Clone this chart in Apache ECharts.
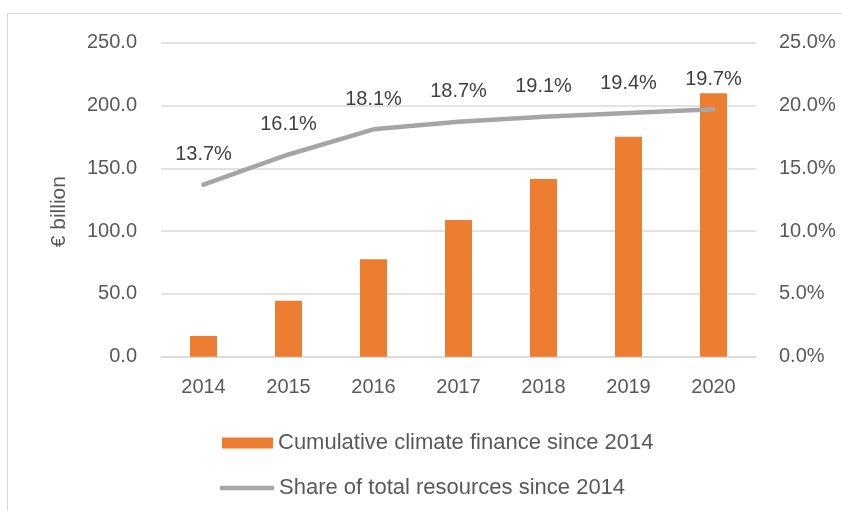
<!DOCTYPE html>
<html>
<head>
<meta charset="utf-8">
<script src="https://cdn.jsdelivr.net/npm/echarts@6/dist/echarts.min.js"></script>
<style>
    html, body { margin: 0; padding: 0; background: #fff; }
    #chart { width: 842px; height: 511px; }
</style>
</head>
<body>
<div id="chart"></div>
<script>
// data
var years = ['2014', '2015', '2016', '2017', '2018', '2019', '2020'];
var climateFinance = [16.5, 44.6, 77.5, 108.8, 141.5, 175.2, 209.7];
var shareOfResources = [13.7, 16.1, 18.1, 18.7, 19.1, 19.4, 19.7];

var barName = 'Cumulative climate finance since 2014';
var lineName = 'Share of total resources since 2014';

var font = 'Liberation Sans';
var textColor = '#595959';
var gridColor = '#d9d9d9';

var myChart = echarts.init(document.getElementById('chart'));

var option = {
    backgroundColor: '#fff',
    animation: false,
    textStyle: { fontFamily: font },
    graphic: [{
        // chart frame (partly outside the window)
        type: 'rect',
        shape: { x: 7.5, y: 13.5, width: 900, height: 600 },
        style: { fill: 'none', stroke: '#d9d9d9', lineWidth: 1 }
    }],
    grid: {
        left: 161,
        right: 86,
        top: 42.7,
        bottom: 154.3
    },
    legend: [{
        data: [{ name: barName, icon: 'rect' }],
        left: 222,
        top: 432,
        padding: 0,
        itemWidth: 51,
        itemHeight: 11,
        textStyle: { color: textColor, fontSize: 22, fontFamily: font }
    }, {
        data: [{ name: lineName, icon: 'roundRect' }],
        left: 220,
        top: 477,
        padding: 0,
        itemWidth: 54,
        itemHeight: 4.5,
        itemStyle: { color: '#a5a5a5' },
        textStyle: { color: textColor, fontSize: 22, fontFamily: font }
    }],
    xAxis: {
        type: 'category',
        data: years,
        axisLine: { lineStyle: { color: gridColor, width: 1.5 } },
        axisTick: { show: false },
        axisLabel: { color: textColor, fontSize: 20, margin: 21 }
    },
    yAxis: [{
        type: 'value',
        min: 0,
        max: 250,
        interval: 50,
        name: '€ billion',
        nameLocation: 'middle',
        nameGap: 91,
        nameTextStyle: { color: textColor, fontSize: 21, padding: [0, 24, 0, 0] },
        axisLine: { show: false },
        axisTick: { show: false },
        axisLabel: {
            color: textColor, fontSize: 20, margin: 24,
            formatter: function (v) { return v.toFixed(1); }
        },
        splitLine: { lineStyle: { color: gridColor, width: 1.5 } }
    }, {
        type: 'value',
        min: 0,
        max: 25,
        interval: 5,
        axisLine: { show: false },
        axisTick: { show: false },
        axisLabel: {
            color: textColor, fontSize: 20, margin: 23,
            formatter: function (v) { return v.toFixed(1) + '%'; }
        },
        splitLine: { show: false }
    }],
    series: [{
        name: barName,
        type: 'bar',
        data: climateFinance,
        barWidth: 27,
        itemStyle: { color: '#ed7d31' }
    }, {
        name: lineName,
        type: 'line',
        yAxisIndex: 1,
        data: shareOfResources,
        symbol: 'circle',
        symbolSize: 0.1,
        showSymbol: true,
        lineStyle: { color: '#a5a5a5', width: 4.5, cap: 'round', join: 'round' },
        itemStyle: { color: '#a5a5a5' },
        label: {
            show: true,
            position: 'top',
            distance: 20,
            color: '#404040',
            fontSize: 20,
            formatter: function (p) { return p.value.toFixed(1) + '%'; }
        }
    }]
};

myChart.setOption(option);
</script>
</body>
</html>
